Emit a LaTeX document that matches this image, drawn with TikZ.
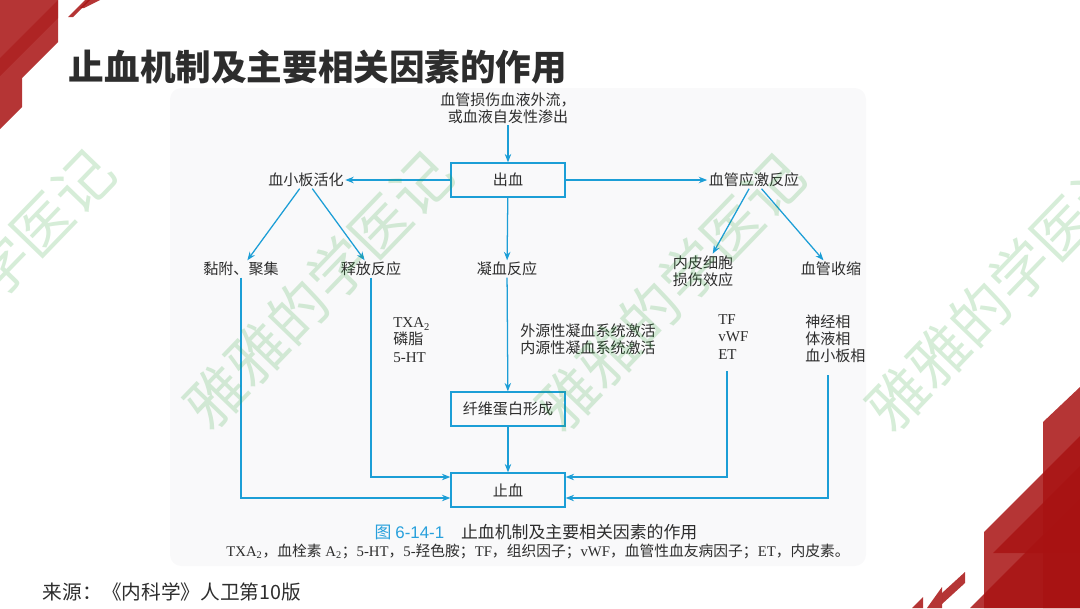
\documentclass[tikz,border=0pt]{standalone}
\usepackage{fontspec}
\setmainfont{Liberation Serif}
\newfontfamily\cjk{Noto Sans CJK SC}
\newfontfamily\capsans{Liberation Sans}
\usepackage{tikz}
\usetikzlibrary{arrows.meta, calc}

\definecolor{flowblue}{RGB}{28,158,214}
\definecolor{inkgray}{RGB}{45,45,45}
\definecolor{slidered}{RGB}{168,18,18}
\definecolor{capblue}{RGB}{40,160,220}
\definecolor{panelgray}{RGB}{249,249,250}
\definecolor{wmgreen}{RGB}{50,165,60}

\begin{document}
\begin{tikzpicture}[x=0.025cm, y=-0.025cm]
    % Define styles
    \tikzstyle{flow} = [draw=flowblue, line width=0.9pt, -{Stealth[length=6pt, width=4.6pt]}]
    \tikzstyle{box} = [rectangle, draw=flowblue, line width=0.9pt, minimum width=2.85cm, minimum height=0.85cm, font=\cjk\fontsize{10.7}{12.2}\selectfont, text=inkgray]
    \tikzstyle{lbl} = [font=\cjk\fontsize{10.7}{12.2}\selectfont, text=inkgray, inner sep=1pt]
    \tikzstyle{notes} = [anchor=west, align=left, inner sep=0pt, font=\fontsize{10.7}{12.2}\selectfont, text=inkgray]
    \tikzstyle{redpart} = [fill=slidered, fill opacity=0.85]
    \tikzstyle{wm} = [font=\cjk\fontsize{42}{42}\selectfont, text=wmgreen, text opacity=0.2, rotate=46]

    \useasboundingbox (0,0) rectangle (1080,608);
    \clip (0,0) rectangle (1080,608);

    % Slide background
    \fill[panelgray, rounded corners=8] (170,88) rectangle (866,566);

    % Red corner pieces
    \fill[redpart] (0,0) -- (58,0) -- (58,42) -- (22,78) -- (22,107) -- (0,129) -- cycle;
    \fill[redpart, fill opacity=0.5] (0,58) -- (58,0) -- (58,18) -- (0,76) -- cycle;
    \fill[redpart] (68,17) -- (85,0) -- (90,0) -- (73,17) -- cycle;
    \fill[redpart] (80,8) -- (88,0) -- (100,0) -- (84,8) -- cycle;
    \fill[redpart] (1043,422) -- (1080,387) -- (1080,608) -- (1043,608) -- cycle;
    \fill[redpart] (984,532) -- (1080,436) -- (1080,608) -- (984,608) -- cycle;
    \fill[redpart] (993,553) -- (1080,466) -- (1080,553) -- cycle;
    \fill[redpart] (970,608) -- (1080,498) -- (1080,608) -- cycle;
    \fill[redpart] (912,608) -- (923,597) -- (923,608) -- cycle;
    \fill[redpart] (927,608) -- (942,587) -- (942,608) -- cycle;
    \fill[redpart] (942,593) -- (965,572) -- (965,583) -- (942,604) -- cycle;

    % Title and source
    \node[anchor=west, font=\cjk\bfseries\fontsize{25.3}{30}\selectfont, text=inkgray] (title) at (64,67) {止血机制及主要相关因素的作用};
    \node[anchor=west, font=\cjk\fontsize{14}{16}\selectfont, text=inkgray] (source) at (38,592) {来源：《内科学》人卫第10版};

    % Top level
    \node[lbl, align=center] (cause) at (508,108) {血管损伤血液外流，\\或血液自发性渗出};
    \node[box] (bleed) at (508,180) {出血};
    \node[lbl] (platelet) at (306,180) {血小板活化};
    \node[lbl] (vessel) at (754,180) {血管应激反应};

    % Second level
    \node[lbl] (adhere) at (241,269) {黏附、聚集};
    \node[lbl] (release) at (371,269) {释放反应};
    \node[lbl] (coag) at (507,269) {凝血反应};
    \node[lbl, align=center] (endo) at (703,271) {内皮细胞\\损伤效应};
    \node[lbl] (constrict) at (831,269) {血管收缩};

    % Factors
    \node[notes] (releasef) at (393,340) {TXA\textsubscript{2}\\{\cjk 磷脂}\\5-HT};
    \node[notes, font=\cjk\fontsize{10.7}{12.2}\selectfont] (coagf) at (520,339) {外源性凝血系统激活\\内源性凝血系统激活};
    \node[notes] (endof) at (718,337) {TF\\vWF\\ET};
    \node[notes, font=\cjk\fontsize{10.7}{12.2}\selectfont] (constrictf) at (805,339) {神经相\\体液相\\血小板相};

    % Lower boxes
    \node[box] (fibrin) at (508,409) {纤维蛋白形成};
    \node[box] (stop) at (508,490) {止血};

    % Arrows
    \draw[flow] (cause) -- (bleed);
    \draw[flow] (bleed) -- (platelet);
    \draw[flow] (bleed) -- (vessel);
    \draw[flow] (bleed) -- (coag);
    \draw[flow] (platelet) -- (adhere);
    \draw[flow] (platelet) -- (release);
    \draw[flow] (vessel) -- (endo);
    \draw[flow] (vessel) -- (constrict);
    \draw[flow] (coag) -- (fibrin);
    \draw[flow] (fibrin) -- (stop);
    \draw[flow] (adhere.south) |- ($(stop.west)+(0,8)$);
    \draw[flow] (release.south) |- ($(stop.west)+(0,-13)$);
    \draw[flow] ($(endof.south west)+(9,12)$) |- ($(stop.east)+(0,-13)$);
    \draw[flow] ($(constrictf.south west)+(23,12)$) |- ($(stop.east)+(0,8)$);

    % Caption
    \node[font=\cjk\fontsize{12}{14}\selectfont, text=inkgray] (figtitle) at (536,532) {{\color{capblue}图 {\capsans 6-14-1}}\quad 止血机制及主要相关因素的作用};
    \node[font=\fontsize{10.5}{12}\selectfont, text=inkgray] (figkey) at (538,551) {TXA\textsubscript{2}{\cjk ，血栓素} A\textsubscript{2}{\cjk ；}5-HT{\cjk ，}5-{\cjk 羟色胺；}TF{\cjk ，组织因子；}vWF{\cjk ，血管性血友病因子；}ET{\cjk ，内皮素。}};

    % Watermarks
    \node[wm] (wmA) at (-20,288) {雅雅的学医记};
    \node[wm] (wmB) at (318,290) {雅雅的学医记};
    \node[wm] (wmC) at (670,292) {雅雅的学医记};
    \node[wm] (wmD) at (1000,292) {雅雅的学医记};
\end{tikzpicture}
\end{document}
